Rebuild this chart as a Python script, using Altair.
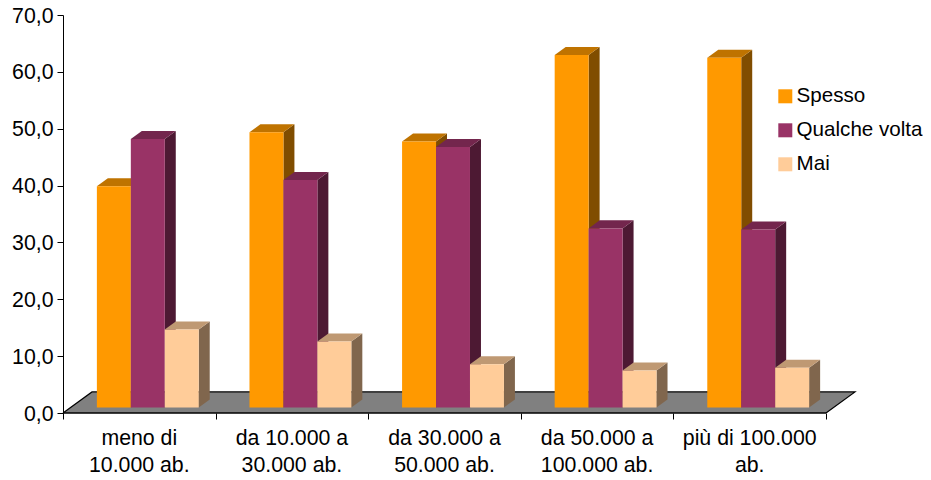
import altair as alt
import pandas as pd

categories = ["meno di\n10.000 ab.", "da 10.000 a\n30.000 ab.", "da 30.000 a\n50.000 ab.", "da 50.000 a\n100.000 ab.", "più di 100.000\nab."]
series = ["Spesso", "Qualche volta", "Mai"]
spesso = [38.9, 48.4, 46.8, 62.0, 61.5]
qualche = [47.2, 40.0, 45.8, 31.5, 31.3]
mai = [13.7, 11.6, 7.6, 6.5, 7.0]
front_colors = ["#FF9900", "#993366", "#FFCC99"]
top_colors = ["#BF7300", "#73264D", "#BF9973"]
side_colors = ["#804D00", "#4D1933", "#80664D"]

W, H = 803, 398
FONT = "Liberation Sans"
FS = 21.3
LEG_FS = 20.6
xs = alt.Scale(domain=[0, W / 152.6], nice=False, zero=False)
ys = alt.Scale(domain=[0, 70], nice=False, zero=True)
x_axis = alt.Axis(values=[0, 1, 2, 3, 4, 5], labels=False, domain=False, grid=False,
                  tickSize=6, tickColor="black", title=None)
y_axis = alt.Axis(values=list(range(0, 71, 10)), grid=False, title=None, tickSize=6,
                  tickColor="black", domainColor="black", labelFont=FONT, labelFontSize=FS,
                  labelColor="black", labelPadding=4, labelOffset=1,
                  labelExpr="replace(format(datum.value,'.1f'),'.',',')")
X = alt.X("x:Q", scale=xs, axis=x_axis)
Y = alt.Y("y:Q", scale=ys, axis=y_axis, stack=None)

BASE, DX, DY = 0.97, 0.072, 1.41
BAR0, BARW = 0.222, 0.2225
FX, FY = 0.19, 3.7


def area(rows, color):
    return alt.Chart(pd.DataFrame(rows)).mark_area(color=color, interpolate="linear", clip=False).encode(
        x=X, y=Y, y2="y2:Q", detail="id:N")


floor = [dict(id=0, x=a, y=b, y2=c) for a, b, c in
         [(0, 0, 0), (FX, 0, FY), (5, 0, FY), (5 + FX, FY, FY)]]
layers = [area(floor, "#808080")]
layers.append(alt.Chart(pd.DataFrame({"x": [0, FX, 5 + FX, 5], "y": [0, FY, FY, 0], "o": [0, 1, 2, 3]}))
              .mark_line(color="black", strokeWidth=1.2, clip=False)
              .encode(x=X, y=Y, order="o:Q"))

color = alt.Color("s:N", scale=alt.Scale(domain=series, range=front_colors), sort=series,
                  legend=alt.Legend(title=None, orient="none", legendX=712, legendY=71, symbolType="square",
                                    symbolSize=196, symbolStrokeWidth=0, labelFont=FONT, labelFontSize=LEG_FS,
                                    labelColor="black", labelLimit=200, rowPadding=13, padding=0, labelOffset=1))

for si, vals in enumerate([spesso, qualche, mai]):
    side, top, front = [], [], []
    for i, v in enumerate(vals):
        l = i + BAR0 + si * BARW
        r = l + BARW
        t = BASE + v
        side += [dict(id=i, x=r, y=BASE, y2=t), dict(id=i, x=r + DX, y=BASE + DY, y2=t + DY)]
        top += [dict(id=i, x=l, y=t, y2=t), dict(id=i, x=l + DX, y=t, y2=t + DY),
                dict(id=i, x=r, y=t, y2=t + DY), dict(id=i, x=r + DX, y=t + DY, y2=t + DY)]
        front.append(dict(s=series[si], x=l, x2=r, y=BASE, y2=t))
    layers.append(area(side, side_colors[si]))
    layers.append(area(top, top_colors[si]))
    layers.append(alt.Chart(pd.DataFrame(front)).mark_rect(clip=False).encode(
        x=X, x2="x2:Q", y=Y, y2="y2:Q", color=color))

layers.append(alt.Chart(pd.DataFrame({"x": [0], "x2": [5], "y": [0]})).mark_rule(color="black", strokeWidth=1.5).encode(
    x=X, x2="x2:Q", y=Y))

lab_df = pd.DataFrame({"x": [i + 0.5 for i in range(5)], "y": [0] * 5, "t": categories})
layers.append(alt.Chart(lab_df).mark_text(font=FONT, fontSize=FS, color="black", lineBreak="\n", lineHeight=27,
                                          baseline="top", align="center", dy=15).encode(x=X, y=Y, text="t:N"))

chart = alt.layer(*layers).resolve_scale(color="shared").properties(
    width=W, height=H,
    autosize=alt.AutoSizeParams(type="none"),
    padding={"left": 55, "top": 7, "right": 57, "bottom": 64},
).configure_view(stroke=None)

chart.save("out.html", embed_options={"renderer": "svg", "actions": False})
